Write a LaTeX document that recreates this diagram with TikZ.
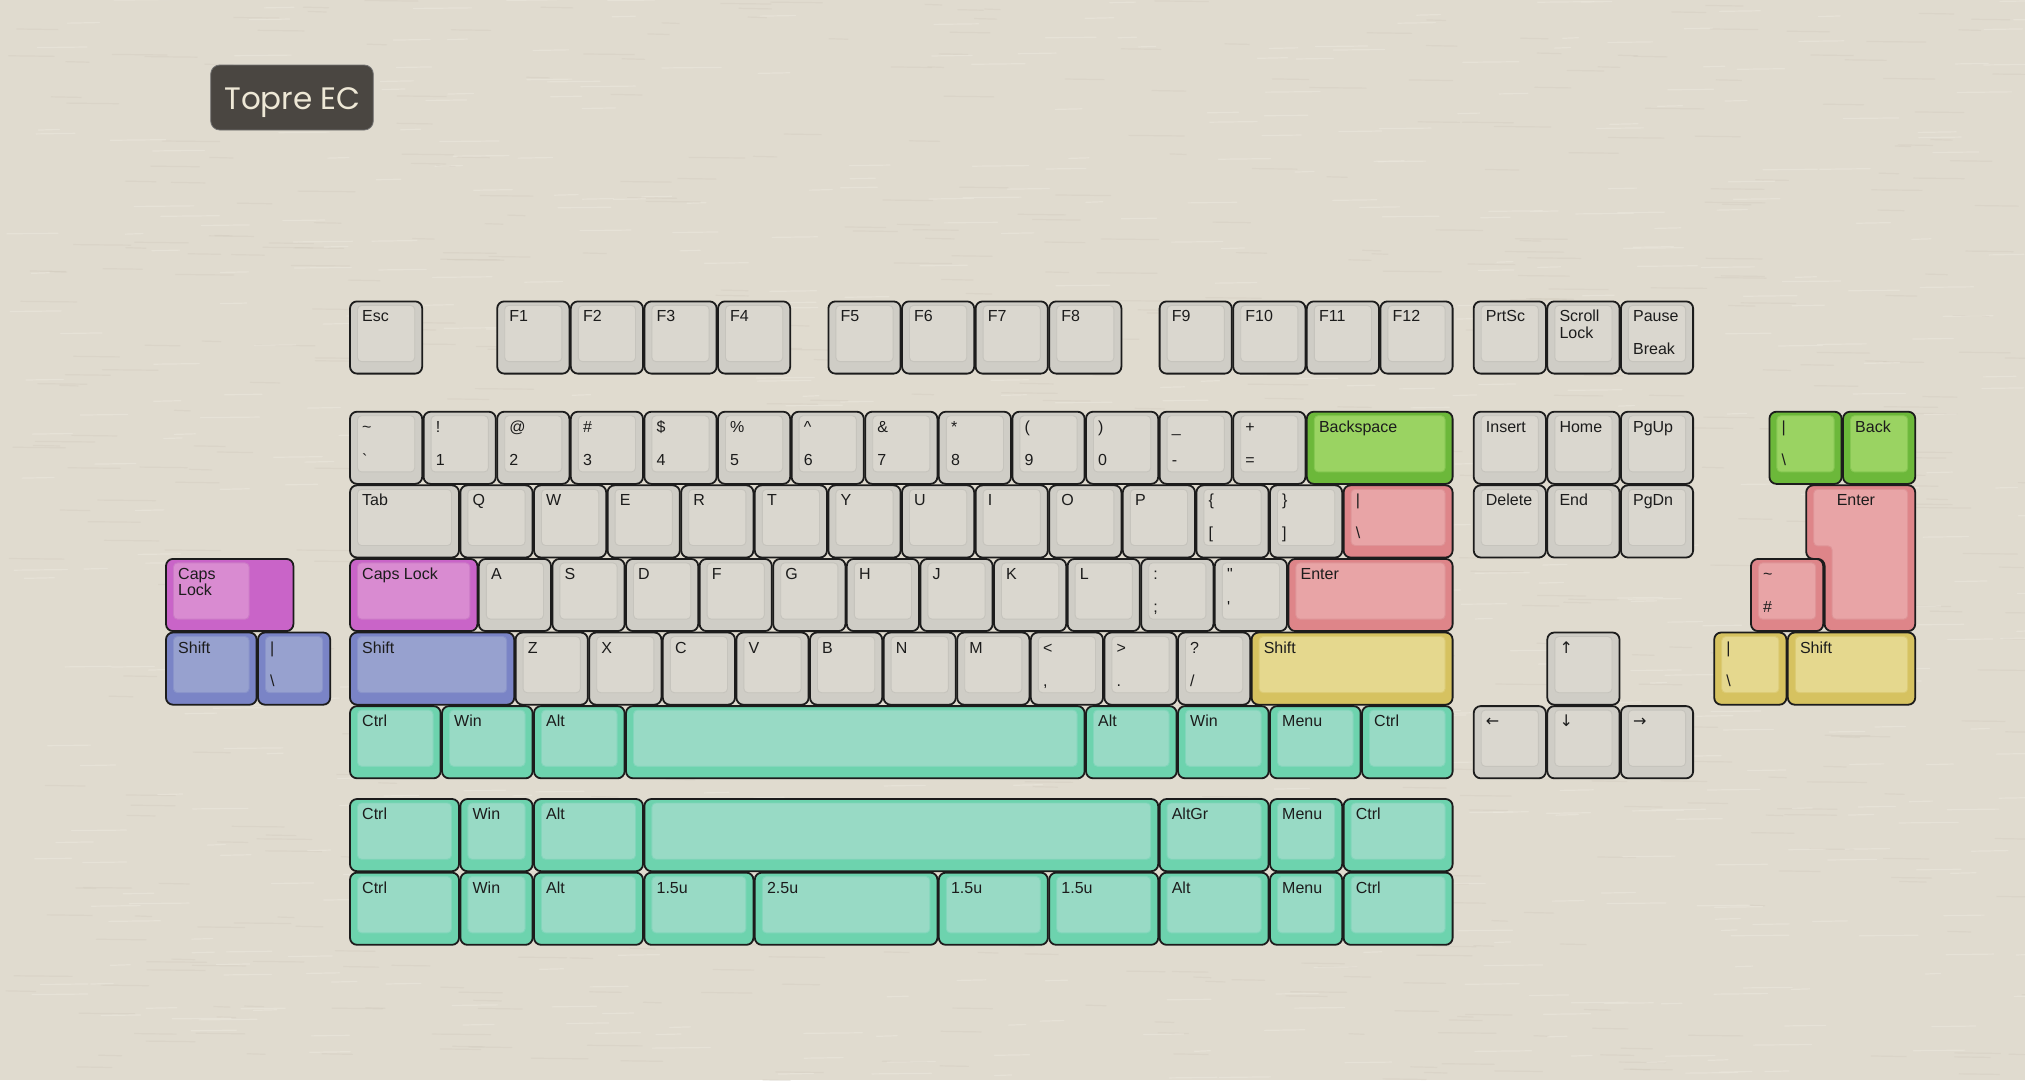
\documentclass[tikz,border=0pt]{standalone}
\usepackage{fontspec}
\newfontfamily\keyfont{Liberation Sans}
\newfontfamily\symfont{DejaVu Sans}
\newfontfamily\titlefont{Poppins}
\definecolor{paper}{HTML}{E0DBCF}
\definecolor{paperdark}{HTML}{CFC9BC}
\definecolor{paperlight}{HTML}{EDE9DF}
\definecolor{greyo}{HTML}{CFCDC6}\definecolor{greyi}{HTML}{DAD7CF}\definecolor{greye}{HTML}{C6C4BD}
\definecolor{mago}{HTML}{C964C8}\definecolor{magi}{HTML}{D98BD1}\definecolor{mage}{HTML}{CB7AC6}
\definecolor{bluo}{HTML}{7A84C6}\definecolor{blui}{HTML}{97A1CF}\definecolor{blue}{HTML}{8993CA}
\definecolor{greo}{HTML}{6CB83A}\definecolor{grei}{HTML}{9AD362}\definecolor{gree}{HTML}{86C752}
\definecolor{redo}{HTML}{DE8589}\definecolor{redi}{HTML}{E8A4A6}\definecolor{rede}{HTML}{DE9497}
\definecolor{yelo}{HTML}{D6C260}\definecolor{yeli}{HTML}{E5D88E}\definecolor{yele}{HTML}{DCCB74}
\definecolor{teao}{HTML}{6DD3AE}\definecolor{teai}{HTML}{98DAC5}\definecolor{teae}{HTML}{82D6BB}
\definecolor{ink}{HTML}{1C1C1C}
\definecolor{titlefill}{HTML}{4A4641}
\definecolor{titletext}{HTML}{EEE8D6}
\tikzset{
  keyout/.style={draw=ink,line width=1.8pt,rounded corners=7pt},
  keyin/.style={line width=0.9pt,rounded corners=4pt},
  lbl/.style={anchor=base west,inner sep=0pt,text=ink,font=\keyfont\fontsize{16}{17}\selectfont},
  titlebox/.style={fill=titlefill,draw=black!55,line width=0.8pt,rounded corners=9pt,
     minimum width=162.6pt,minimum height=65pt,inner sep=0pt},
  titlelbl/.style={anchor=base,inner sep=0pt,text=titletext,font=\titlefont\fontsize{31}{31}\selectfont},
  fibre/.style={line width=1.2pt,line cap=round}
}
\def\KU{73.6}
\def\KM{349.3}
\def\KN{1473}
\def\KR{1713.5}
\def\KL{165.3}
\def\YF{300.7}\def\YA{411}\def\YB{484.6}\def\YC{558.2}\def\YD{631.8}\def\YE{705.4}\def\YG{798.3}\def\YH{871.9}
\newcommand\kgen[9]{%
  \pgfmathsetmacro\kx{#2+0.7}%
  \pgfmathsetmacro\ky{#3+0.7}%
  \pgfmathsetmacro\kw{#4*\KU-1.4}%
  \pgfmathsetmacro\kiw{#9*\KU-1.4}%
  \pgfmathsetmacro\kh{\KU-1.4}%
  \draw[keyout,fill=#5o] (\kx,\ky) rectangle ++(\kw,\kh);
  \draw[keyin,fill=#5i,draw=#5e] (\kx+7.5,\ky+4) rectangle (\kx+\kiw-7.5,\ky+\kh-12);
  \def\ktop{#6}\ifx\ktop\empty\else\node[lbl] (#1) at (\kx+12,\ky+20.5) {#6};\fi
  \def\kbot{#7}\ifx\kbot\empty\else\node[lbl] (#1b) at (\kx+12,\ky+#8) {#7};\fi
}
\newcommand\kc[7]{\kgen{#1}{#2}{#3}{#4}{#5}{#6}{#7}{53.5}{#4}}
\newcommand\kt[7]{\kgen{#1}{#2}{#3}{#4}{#5}{#6}{#7}{37}{#4}}
\begin{document}
\begin{tikzpicture}[x=1pt,y=-1pt]
\fill[paper] (0,0) rectangle (2025,1080);
\useasboundingbox (0,0) rectangle (2025,1080);
% paper fibres
\pgfmathsetseed{4711}
\foreach \i in {1,...,700}{
  \pgfmathsetmacro\fx{rnd*2025}
  \pgfmathsetmacro\fy{rnd*1080}
  \pgfmathsetmacro\fl{15+rnd*45}
  \draw[fibre,paperdark,opacity=0.35] (\fx,\fy) -- ++(\fl,0.6);
}
\foreach \i in {1,...,700}{
  \pgfmathsetmacro\fx{rnd*2025}
  \pgfmathsetmacro\fy{rnd*1080}
  \pgfmathsetmacro\fl{15+rnd*45}
  \draw[fibre,paperlight,opacity=0.5] (\fx,\fy) -- ++(\fl,-0.6);
}
\node[titlebox] (title) at (292,97.5) {};
\node[titlelbl] (titletext) at (292.5,109) {Topre EC};
% function row
\kc{esc}{\KM}{\YF}{1}{grey}{Esc}{}
\kc{f1}{\KM+2*\KU}{\YF}{1}{grey}{F1}{}
\kc{f2}{\KM+3*\KU}{\YF}{1}{grey}{F2}{}
\kc{f3}{\KM+4*\KU}{\YF}{1}{grey}{F3}{}
\kc{f4}{\KM+5*\KU}{\YF}{1}{grey}{F4}{}
\kc{f5}{\KM+6.5*\KU}{\YF}{1}{grey}{F5}{}
\kc{f6}{\KM+7.5*\KU}{\YF}{1}{grey}{F6}{}
\kc{f7}{\KM+8.5*\KU}{\YF}{1}{grey}{F7}{}
\kc{f8}{\KM+9.5*\KU}{\YF}{1}{grey}{F8}{}
\kc{f9}{\KM+11*\KU}{\YF}{1}{grey}{F9}{}
\kc{f10}{\KM+12*\KU}{\YF}{1}{grey}{F10}{}
\kc{f11}{\KM+13*\KU}{\YF}{1}{grey}{F11}{}
\kc{f12}{\KM+14*\KU}{\YF}{1}{grey}{F12}{}
\kc{prtsc}{\KN}{\YF}{1}{grey}{PrtSc}{}
\kt{scroll}{\KN+\KU}{\YF}{1}{grey}{Scroll}{Lock}
\kc{pause}{\KN+2*\KU}{\YF}{1}{grey}{Pause}{Break}
% number row
\kc{tilde}{\KM}{\YA}{1}{grey}{\textasciitilde}{`}
\kc{one}{\KM+1*\KU}{\YA}{1}{grey}{!}{1}
\kc{two}{\KM+2*\KU}{\YA}{1}{grey}{@}{2}
\kc{three}{\KM+3*\KU}{\YA}{1}{grey}{\#}{3}
\kc{four}{\KM+4*\KU}{\YA}{1}{grey}{\$}{4}
\kc{five}{\KM+5*\KU}{\YA}{1}{grey}{\%}{5}
\kc{six}{\KM+6*\KU}{\YA}{1}{grey}{\textasciicircum}{6}
\kc{seven}{\KM+7*\KU}{\YA}{1}{grey}{\&}{7}
\kc{eight}{\KM+8*\KU}{\YA}{1}{grey}{*}{8}
\kc{nine}{\KM+9*\KU}{\YA}{1}{grey}{(}{9}
\kc{zero}{\KM+10*\KU}{\YA}{1}{grey}{)}{0}
\kc{minus}{\KM+11*\KU}{\YA}{1}{grey}{\_}{-}
\kc{equal}{\KM+12*\KU}{\YA}{1}{grey}{+}{=}
\kc{bksp}{\KM+13*\KU}{\YA}{2}{gre}{Backspace}{}
\kc{ins}{\KN}{\YA}{1}{grey}{Insert}{}
\kc{home}{\KN+\KU}{\YA}{1}{grey}{Home}{}
\kc{pgup}{\KN+2*\KU}{\YA}{1}{grey}{PgUp}{}
\kc{rbsl}{\KR+0.75*\KU}{\YA}{1}{gre}{|}{\textbackslash}
\kc{rback}{\KR+1.75*\KU}{\YA}{1}{gre}{Back}{}
% Q row
\kc{tab}{\KM}{\YB}{1.5}{grey}{Tab}{}
\kc{q}{\KM+1.5*\KU}{\YB}{1}{grey}{Q}{}
\kc{w}{\KM+2.5*\KU}{\YB}{1}{grey}{W}{}
\kc{e}{\KM+3.5*\KU}{\YB}{1}{grey}{E}{}
\kc{r}{\KM+4.5*\KU}{\YB}{1}{grey}{R}{}
\kc{t}{\KM+5.5*\KU}{\YB}{1}{grey}{T}{}
\kc{y}{\KM+6.5*\KU}{\YB}{1}{grey}{Y}{}
\kc{u}{\KM+7.5*\KU}{\YB}{1}{grey}{U}{}
\kc{i}{\KM+8.5*\KU}{\YB}{1}{grey}{I}{}
\kc{o}{\KM+9.5*\KU}{\YB}{1}{grey}{O}{}
\kc{p}{\KM+10.5*\KU}{\YB}{1}{grey}{P}{}
\kc{lbr}{\KM+11.5*\KU}{\YB}{1}{grey}{\{}{[}
\kc{rbr}{\KM+12.5*\KU}{\YB}{1}{grey}{\}}{]}
\kc{bsl}{\KM+13.5*\KU}{\YB}{1.5}{red}{|}{\textbackslash}
\kc{del}{\KN}{\YB}{1}{grey}{Delete}{}
\kc{end}{\KN+\KU}{\YB}{1}{grey}{End}{}
\kc{pgdn}{\KN+2*\KU}{\YB}{1}{grey}{PgDn}{}
% ISO enter
\pgfmathsetmacro\eL{\KR+1.25*\KU+0.7}
\pgfmathsetmacro\eLL{\KR+1.5*\KU+0.7}
\pgfmathsetmacro\eR{\KR+2.75*\KU-0.7}
\pgfmathsetmacro\eT{\YB+0.7}
\pgfmathsetmacro\eM{\YC+0.7}
\pgfmathsetmacro\eB{\YD-0.7}
\draw[keyout,fill=redo] (\eL,\eT) -- (\eR,\eT) -- (\eR,\eB) -- (\eLL,\eB) -- (\eLL,\eM) -- (\eL,\eM) -- cycle;
\draw[keyin,fill=redi,draw=rede] (\eL+7.5,\eT+4) -- (\eR-7.5,\eT+4) -- (\eR-7.5,\eB-12) -- (\eLL+7.5,\eB-12) -- (\eLL+7.5,\eM-13) -- (\eL+7.5,\eM-13) -- cycle;
\node[lbl] (isoenter) at (\eLL+12,\eT+20.5) {Enter};
% home row
\kgen{lcaps}{\KL}{\YC}{1.75}{mag}{Caps}{Lock}{37}{1.25}
\kc{caps}{\KM}{\YC}{1.75}{mag}{Caps Lock}{}
\kc{a}{\KM+1.75*\KU}{\YC}{1}{grey}{A}{}
\kc{s}{\KM+2.75*\KU}{\YC}{1}{grey}{S}{}
\kc{d}{\KM+3.75*\KU}{\YC}{1}{grey}{D}{}
\kc{f}{\KM+4.75*\KU}{\YC}{1}{grey}{F}{}
\kc{g}{\KM+5.75*\KU}{\YC}{1}{grey}{G}{}
\kc{h}{\KM+6.75*\KU}{\YC}{1}{grey}{H}{}
\kc{j}{\KM+7.75*\KU}{\YC}{1}{grey}{J}{}
\kc{k}{\KM+8.75*\KU}{\YC}{1}{grey}{K}{}
\kc{l}{\KM+9.75*\KU}{\YC}{1}{grey}{L}{}
\kc{semi}{\KM+10.75*\KU}{\YC}{1}{grey}{:}{;}
\kc{quote}{\KM+11.75*\KU}{\YC}{1}{grey}{"}{'}
\kc{enter}{\KM+12.75*\KU}{\YC}{2.25}{red}{Enter}{}
\kc{hash}{\KR+0.5*\KU}{\YC}{1}{red}{\textasciitilde}{\#}
% shift row
\kc{lshift}{\KL}{\YD}{1.25}{blu}{Shift}{}
\kc{lbsl}{\KL+1.25*\KU}{\YD}{1}{blu}{|}{\textbackslash}
\kc{shift}{\KM}{\YD}{2.25}{blu}{Shift}{}
\kc{z}{\KM+2.25*\KU}{\YD}{1}{grey}{Z}{}
\kc{x}{\KM+3.25*\KU}{\YD}{1}{grey}{X}{}
\kc{c}{\KM+4.25*\KU}{\YD}{1}{grey}{C}{}
\kc{v}{\KM+5.25*\KU}{\YD}{1}{grey}{V}{}
\kc{b}{\KM+6.25*\KU}{\YD}{1}{grey}{B}{}
\kc{n}{\KM+7.25*\KU}{\YD}{1}{grey}{N}{}
\kc{m}{\KM+8.25*\KU}{\YD}{1}{grey}{M}{}
\kc{comma}{\KM+9.25*\KU}{\YD}{1}{grey}{<}{,}
\kc{period}{\KM+10.25*\KU}{\YD}{1}{grey}{>}{.}
\kc{slash}{\KM+11.25*\KU}{\YD}{1}{grey}{?}{/}
\kc{rshift}{\KM+12.25*\KU}{\YD}{2.75}{yel}{Shift}{}
\kc{up}{\KN+\KU}{\YD}{1}{grey}{\symfont ↑}{}
\kc{rrbsl}{\KR}{\YD}{1}{yel}{|}{\textbackslash}
\kc{rrshift}{\KR+\KU}{\YD}{1.75}{yel}{Shift}{}
% bottom row
\kc{ctrl}{\KM}{\YE}{1.25}{tea}{Ctrl}{}
\kc{win}{\KM+1.25*\KU}{\YE}{1.25}{tea}{Win}{}
\kc{alt}{\KM+2.5*\KU}{\YE}{1.25}{tea}{Alt}{}
\kc{space}{\KM+3.75*\KU}{\YE}{6.25}{tea}{}{}
\kc{ralt}{\KM+10*\KU}{\YE}{1.25}{tea}{Alt}{}
\kc{rwin}{\KM+11.25*\KU}{\YE}{1.25}{tea}{Win}{}
\kc{menu}{\KM+12.5*\KU}{\YE}{1.25}{tea}{Menu}{}
\kc{rctrl}{\KM+13.75*\KU}{\YE}{1.25}{tea}{Ctrl}{}
\kc{left}{\KN}{\YE}{1}{grey}{\symfont ←}{}
\kc{down}{\KN+\KU}{\YE}{1}{grey}{\symfont ↓}{}
\kc{right}{\KN+2*\KU}{\YE}{1}{grey}{\symfont →}{}
% alternative bottom row 1
\kc{actrl}{\KM}{\YG}{1.5}{tea}{Ctrl}{}
\kc{awin}{\KM+1.5*\KU}{\YG}{1}{tea}{Win}{}
\kc{aalt}{\KM+2.5*\KU}{\YG}{1.5}{tea}{Alt}{}
\kc{aspace}{\KM+4*\KU}{\YG}{7}{tea}{}{}
\kc{aaltgr}{\KM+11*\KU}{\YG}{1.5}{tea}{AltGr}{}
\kc{amenu}{\KM+12.5*\KU}{\YG}{1}{tea}{Menu}{}
\kc{arctrl}{\KM+13.5*\KU}{\YG}{1.5}{tea}{Ctrl}{}
% alternative bottom row 2
\kc{bctrl}{\KM}{\YH}{1.5}{tea}{Ctrl}{}
\kc{bwin}{\KM+1.5*\KU}{\YH}{1}{tea}{Win}{}
\kc{balt}{\KM+2.5*\KU}{\YH}{1.5}{tea}{Alt}{}
\kc{bsa}{\KM+4*\KU}{\YH}{1.5}{tea}{1.5u}{}
\kc{bsb}{\KM+5.5*\KU}{\YH}{2.5}{tea}{2.5u}{}
\kc{bsc}{\KM+8*\KU}{\YH}{1.5}{tea}{1.5u}{}
\kc{bsd}{\KM+9.5*\KU}{\YH}{1.5}{tea}{1.5u}{}
\kc{bralt}{\KM+11*\KU}{\YH}{1.5}{tea}{Alt}{}
\kc{bmenu}{\KM+12.5*\KU}{\YH}{1}{tea}{Menu}{}
\kc{brctrl}{\KM+13.5*\KU}{\YH}{1.5}{tea}{Ctrl}{}
\end{tikzpicture}
\end{document}
